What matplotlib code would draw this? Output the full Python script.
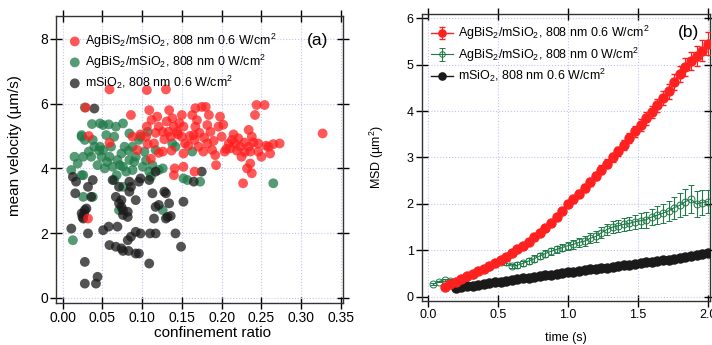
import numpy as np
import matplotlib.pyplot as plt

plt.rcParams['font.family'] = ['Liberation Sans', 'DejaVu Sans']
plt.rcParams['mathtext.fontset'] = 'custom'
plt.rcParams['mathtext.rm'] = 'Liberation Sans'
plt.rcParams['mathtext.it'] = 'Liberation Sans:italic'
plt.rcParams['font.size'] = 8

# (a) confinement ratio vs mean velocity
red_x = [0.029, 0.033, 0.059, 0.086, 0.094, 0.106, 0.109, 0.112, 0.105, 0.107, 0.121, 0.126,
         0.134, 0.138, 0.140, 0.133, 0.136, 0.144, 0.126, 0.137, 0.141, 0.140, 0.150, 0.152,
         0.150, 0.154, 0.152, 0.152, 0.163, 0.167, 0.169, 0.167, 0.165, 0.166, 0.171, 0.166,
         0.175, 0.180, 0.184, 0.182, 0.186, 0.182, 0.177, 0.188, 0.192, 0.193, 0.198, 0.196,
         0.200, 0.204, 0.209, 0.213, 0.211, 0.217, 0.221, 0.223, 0.225, 0.227, 0.234, 0.236,
         0.234, 0.242, 0.244, 0.238, 0.238, 0.246, 0.250, 0.254, 0.259, 0.261, 0.265, 0.273,
         0.327, 0.236, 0.246, 0.232, 0.032, 0.115, 0.111, 0.121, 0.059, 0.106, 0.130, 0.088,
         0.128, 0.145, 0.158, 0.172, 0.190, 0.206, 0.215, 0.229, 0.119, 0.098, 0.147, 0.160,
         0.178, 0.202, 0.219, 0.229, 0.240, 0.256, 0.131, 0.117]
red_y = [5.88, 5.00, 4.79, 5.65, 4.57, 5.29, 5.80, 5.50, 4.98, 4.75, 5.29, 5.13,
         5.80, 5.55, 5.29, 5.13, 4.98, 5.13, 4.52, 4.55, 4.00, 3.79, 5.65, 5.29,
         4.98, 4.77, 4.46, 4.05, 5.65, 5.86, 5.49, 5.29, 5.03, 4.88, 4.67, 3.90,
         5.90, 5.90, 5.65, 5.34, 5.13, 4.77, 4.52, 4.57, 4.41, 4.10, 5.60, 5.29,
         4.98, 4.52, 4.77, 4.88, 4.62, 4.77, 4.93, 4.67, 4.36, 3.54, 5.19, 4.52,
         4.67, 5.65, 5.96, 4.98, 3.85, 4.52, 4.36, 5.96, 4.67, 4.46, 4.75, 4.77,
         5.08, 4.15, 4.77, 4.00, 2.45, 4.77, 4.30, 4.48, 6.44, 6.42, 6.44, 4.98,
         4.90, 5.05, 4.70, 5.10, 4.85, 4.60, 5.05, 4.80, 5.60, 5.05, 5.40, 5.00,
         4.95, 5.35, 4.55, 4.50, 4.80, 4.70, 5.45, 5.10]

green_x = [0.028, 0.037, 0.047, 0.058, 0.024, 0.011, 0.024, 0.028, 0.026, 0.015, 0.024, 0.033,
           0.036, 0.040, 0.044, 0.049, 0.051, 0.047, 0.053, 0.059, 0.061, 0.065, 0.068, 0.069,
           0.074, 0.076, 0.078, 0.084, 0.080, 0.088, 0.092, 0.096, 0.101, 0.103, 0.109, 0.111,
           0.113, 0.117, 0.121, 0.126, 0.138, 0.142, 0.152, 0.157, 0.163, 0.173, 0.265, 0.013,
           0.026, 0.038, 0.071, 0.076, 0.067, 0.084, 0.088, 0.098, 0.107, 0.051, 0.055, 0.038,
           0.126, 0.026, 0.065, 0.076, 0.056, 0.072, 0.090, 0.046, 0.019, 0.083, 0.063, 0.105]
green_y = [5.88, 5.37, 5.39, 5.36, 5.03, 3.95, 4.98, 4.88, 4.36, 4.36, 3.79, 4.52,
           4.36, 4.67, 4.10, 4.36, 4.57, 4.67, 4.00, 4.36, 4.67, 4.98, 3.79, 4.26,
           4.46, 4.05, 4.67, 4.26, 3.90, 3.95, 4.36, 4.88, 4.05, 4.52, 3.90, 3.74,
           4.10, 4.57, 3.95, 4.00, 4.77, 4.67, 3.69, 3.64, 4.52, 3.59, 3.54, 1.78,
           3.12, 3.12, 2.71, 5.39, 5.29, 5.08, 4.67, 4.98, 5.13, 5.34, 5.03, 4.88,
           2.71, 3.79, 3.64, 3.43, 4.20, 4.10, 4.20, 4.55, 4.15, 4.55, 4.05, 4.25]

black_x = [0.013, 0.017, 0.016, 0.011, 0.024, 0.028, 0.030, 0.026, 0.032, 0.028, 0.028, 0.042,
           0.044, 0.032, 0.036, 0.051, 0.058, 0.059, 0.069, 0.067, 0.074, 0.076, 0.083, 0.082,
           0.086, 0.092, 0.098, 0.092, 0.096, 0.109, 0.110, 0.117, 0.142, 0.149, 0.063, 0.071,
           0.067, 0.074, 0.071, 0.074, 0.076, 0.076, 0.082, 0.082, 0.084, 0.086, 0.084, 0.092,
           0.096, 0.098, 0.109, 0.113, 0.115, 0.117, 0.121, 0.128, 0.130, 0.132, 0.134, 0.136,
           0.130, 0.152, 0.165, 0.175, 0.117, 0.038, 0.040, 0.027, 0.025]
black_y = [3.74, 3.59, 3.23, 2.14, 2.61, 2.71, 2.76, 2.45, 1.99, 1.11, 0.44, 0.44,
           0.65, 3.43, 3.12, 2.09, 2.20, 1.63, 2.20, 1.58, 1.53, 1.45, 1.45, 1.78,
           1.89, 2.04, 1.99, 1.37, 1.37, 1.06, 1.99, 1.99, 1.99, 1.58, 3.64, 3.43,
           3.12, 3.02, 2.92, 2.81, 2.71, 2.56, 2.66, 2.50, 3.28, 3.43, 3.59, 3.02,
           3.59, 3.69, 3.64, 3.23, 2.45, 2.81, 2.87, 3.28, 3.23, 2.50, 2.92, 2.53,
           2.45, 2.97, 3.59, 3.90, 3.90, 3.64, 5.85, 2.60, 2.50]

# (b) MSD vs time
t = [0.04, 0.08, 0.12, 0.16, 0.20, 0.24, 0.28, 0.32, 0.36, 0.40,
     0.44, 0.48, 0.52, 0.56, 0.60, 0.64, 0.68, 0.72, 0.76, 0.80,
     0.84, 0.88, 0.92, 0.96, 1.00, 1.04, 1.08, 1.12, 1.16, 1.20,
     1.24, 1.28, 1.32, 1.36, 1.40, 1.44, 1.48, 1.52, 1.56, 1.60,
     1.64, 1.68, 1.72, 1.76, 1.80, 1.84, 1.88, 1.92, 1.96, 2.00]
msd_red = [np.nan, np.nan, 0.22, 0.27, 0.33, 0.38, 0.44, 0.49, 0.55, 0.60,
           0.66, 0.72, 0.79, 0.86, 0.94, 1.02, 1.10, 1.19, 1.28, 1.38,
           1.49, 1.60, 1.72, 1.85, 2.00, 2.10, 2.22, 2.34, 2.47, 2.60,
           2.74, 2.87, 3.00, 3.13, 3.27, 3.42, 3.56, 3.70, 3.84, 3.98,
           4.12, 4.28, 4.43, 4.62, 4.80, 4.95, 5.08, 5.18, 5.30, 5.45]
err_red = [0, 0, 0.01, 0.01, 0.01, 0.01, 0.02, 0.02, 0.02, 0.02,
           0.02, 0.03, 0.03, 0.03, 0.03, 0.04, 0.04, 0.04, 0.05, 0.05,
           0.05, 0.05, 0.06, 0.06, 0.06, 0.07, 0.07, 0.08, 0.08, 0.08,
           0.09, 0.09, 0.10, 0.10, 0.11, 0.11, 0.12, 0.12, 0.13, 0.13,
           0.14, 0.15, 0.16, 0.17, 0.18, 0.19, 0.20, 0.21, 0.23, 0.25]
msd_green = [0.27, 0.33, 0.37, 0.35, 0.33, 0.38, 0.42, 0.48, 0.55, 0.60,
             0.65, 0.72, 0.76, 0.74, 0.66, 0.68, 0.72, 0.77, 0.82, 0.88,
             0.93, 0.98, 1.02, 1.06, 1.10, 1.13, 1.17, 1.20, 1.26, 1.30,
             1.38, 1.45, 1.50, 1.53, 1.56, 1.58, 1.62, 1.64, 1.66, 1.72,
             1.76, 1.80, 1.85, 1.92, 1.97, 2.05, 2.10, 2.00, 2.03, 2.05]
err_green = [0.02, 0.02, 0.02, 0.03, 0.03, 0.03, 0.03, 0.04, 0.04, 0.04,
             0.04, 0.05, 0.05, 0.05, 0.05, 0.06, 0.06, 0.06, 0.07, 0.07,
             0.07, 0.08, 0.08, 0.08, 0.09, 0.09, 0.10, 0.10, 0.11, 0.11,
             0.12, 0.12, 0.13, 0.13, 0.14, 0.14, 0.15, 0.16, 0.17, 0.18,
             0.19, 0.20, 0.22, 0.24, 0.26, 0.28, 0.30, 0.28, 0.26, 0.25]
msd_black = [np.nan, np.nan, np.nan, np.nan, 0.20, 0.21, 0.23, 0.24, 0.26, 0.28,
             0.29, 0.31, 0.33, 0.35, 0.36, 0.38, 0.40, 0.41, 0.43, 0.45,
             0.46, 0.48, 0.50, 0.51, 0.53, 0.54, 0.56, 0.57, 0.59, 0.60,
             0.62, 0.63, 0.65, 0.66, 0.68, 0.69, 0.71, 0.72, 0.74, 0.75,
             0.77, 0.79, 0.80, 0.82, 0.84, 0.86, 0.88, 0.90, 0.92, 0.94]

lab_red = r'AgBiS$_2$/mSiO$_2$, 808 nm 0.6 W/cm$^2$'
lab_green = r'AgBiS$_2$/mSiO$_2$, 808 nm 0 W/cm$^2$'
lab_black = r'mSiO$_2$, 808 nm 0.6 W/cm$^2$'

RED = '#ff2020'
GREEN = '#1f7a48'
BLACK = '#1a1a1a'
GRID = '#c4c4f0'


def style(ax, size, pad):
    ax.grid(True, linestyle=':', color=GRID, linewidth=0.8)
    ax.set_axisbelow(True)
    ax.tick_params(direction='inout', length=8, width=1, top=True, right=True,
                   labeltop=False, labelright=False, labelsize=size, pad=pad)
    for s in ax.spines.values():
        s.set_linewidth(1)
        s.set_color('#333333')


fig = plt.figure(figsize=(7.12, 3.45), dpi=100)

ax1 = fig.add_axes([0.0787, 0.1217, 0.403, 0.832])
g = ax1.scatter(green_x, green_y, s=50, color=GREEN, alpha=0.75, edgecolors='none', label=lab_green)
k = ax1.scatter(black_x, black_y, s=50, color=BLACK, alpha=0.75, edgecolors='none', label=lab_black)
r = ax1.scatter(red_x, red_y, s=50, color=RED, alpha=0.75, edgecolors='none', label=lab_red)
ax1.set_xlim(-0.0082, 0.3526)
ax1.set_ylim(-0.16, 8.71)
ax1.set_xticks([0.0, 0.05, 0.10, 0.15, 0.20, 0.25, 0.30, 0.35])
ax1.set_xticklabels(['0.00', '0.05', '0.10', '0.15', '0.20', '0.25', '0.30', '0.35'])
ax1.set_yticks([0, 2, 4, 6, 8])
style(ax1, 10, 1.5)
ax1.set_xlabel('confinement ratio', fontsize=11, labelpad=2)
ax1.xaxis.set_label_coords(0.545, -0.08)
ax1.set_ylabel('mean velocity (µm/s)', fontsize=11)
ax1.yaxis.set_label_coords(-0.118, 0.55)
ax1.legend(handles=[r, g, k], loc='upper left', bbox_to_anchor=(0.0, 0.985), frameon=False,
           handlelength=1.2, handletextpad=0.2, labelspacing=0.22, borderaxespad=0.5, fontsize=9)
ax1.text(0.913, 0.916, '(a)', transform=ax1.transAxes, ha='center', va='center', fontsize=12.5)

ax2 = fig.add_axes([0.5927, 0.1275, 0.4045, 0.832])
ax2.errorbar(t, msd_green, yerr=err_green, color=GREEN, ecolor=GREEN, marker='o', markersize=5,
             markerfacecolor='none', markeredgewidth=0.7, linewidth=0.8, capsize=2.5, elinewidth=0.8,
             label=lab_green, zorder=2)
ax2.plot(t, msd_black, color=BLACK, marker='o', markersize=6.5, linewidth=1,
         label=lab_black, zorder=3)
ax2.errorbar(t, msd_red, yerr=err_red, color=RED, ecolor=RED, marker='o', markersize=6.5,
             linewidth=1, capsize=2.5, elinewidth=0.8, label=lab_red, zorder=4)
ax2.set_xlim(-0.041, 2.016)
ax2.set_ylim(-0.09, 6.09)
ax2.set_xticks([0.0, 0.5, 1.0, 1.5, 2.0])
ax2.set_yticks([0, 1, 2, 3, 4, 5, 6])
style(ax2, 9, 2)
ax2.set_xlabel('time (s)', fontsize=9, labelpad=8)
ax2.set_ylabel(r'MSD (µm$^2$)', fontsize=9, labelpad=15)
h, l = ax2.get_legend_handles_labels()
order = [l.index(lab_red), l.index(lab_green), l.index(lab_black)]
ax2.legend([h[i] for i in order], [l[i] for i in order], loc='upper left',
           bbox_to_anchor=(0.0, 0.995), frameon=False, markerscale=0.8,
           handlelength=1.8, handletextpad=0.4, labelspacing=0.25, borderaxespad=0.3, fontsize=9)
ax2.text(0.927, 0.937, '(b)', transform=ax2.transAxes, ha='center', va='center', fontsize=12.5)

fig.savefig('out.png', dpi=100)
